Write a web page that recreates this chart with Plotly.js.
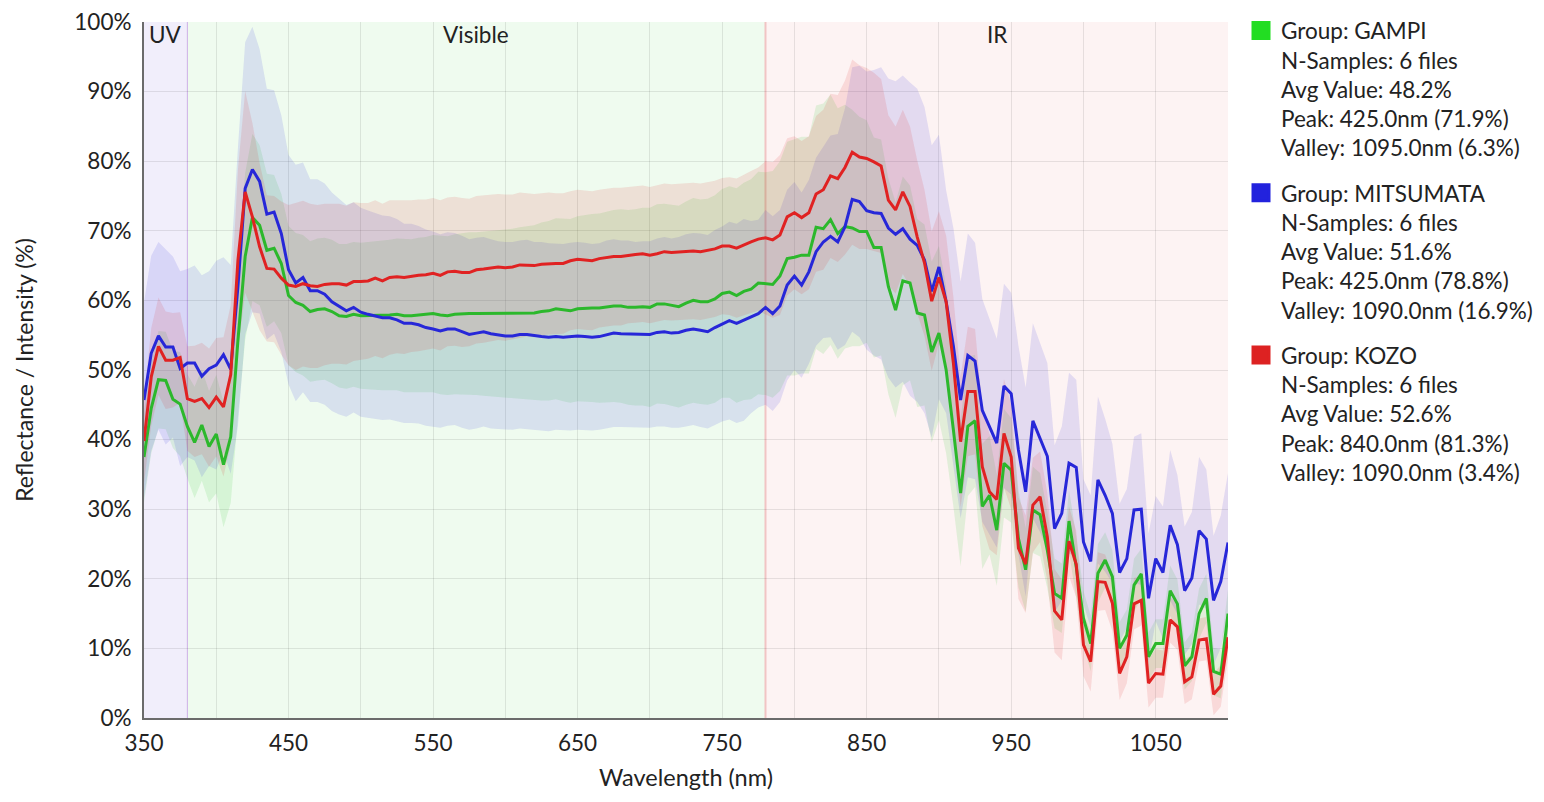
<!DOCTYPE html>
<html>
<head>
<meta charset="utf-8">
<script src="https://cdn.plot.ly/plotly-3.0.1.min.js"></script>
<style>
  html, body { margin: 0; padding: 0; background: #ffffff; }
  #chart { width: 1544px; height: 802px; }
</style>
</head>
<body>
<div id="chart"></div>
<script>
// Wavelength grid (nm)
const wavelength = [
  350, 355, 360, 365, 370, 375, 380, 385, 390, 395, 400, 405, 410, 415, 420, 425, 430, 435, 440, 445,
  450, 455, 460, 465, 470, 475, 480, 485, 490, 495, 500, 505, 510, 515, 520, 525, 530, 535, 540, 545,
  550, 555, 560, 565, 570, 575, 580, 585, 590, 595, 600, 605, 610, 615, 620, 625, 630, 635, 640, 645,
  650, 655, 660, 665, 670, 675, 680, 685, 690, 695, 700, 705, 710, 715, 720, 725, 730, 735, 740, 745,
  750, 755, 760, 765, 770, 775, 780, 785, 790, 795, 800, 805, 810, 815, 820, 825, 830, 835, 840, 845,
  850, 855, 860, 865, 870, 875, 880, 885, 890, 895, 900, 905, 910, 915, 920, 925, 930, 935, 940, 945,
  950, 955, 960, 965, 970, 975, 980, 985, 990, 995, 1000, 1005, 1010, 1015, 1020, 1025, 1030, 1035, 1040, 1045,
  1050, 1055, 1060, 1065, 1070, 1075, 1080, 1085, 1090, 1095, 1100
];

// Mean reflectance (%) per group
const gampiMean = [
  37.5, 44.5, 48.6, 48.5, 45.8, 45.1, 41.9, 39.6, 42.1, 39.0, 40.8, 36.4, 40.4,
  54.3, 66.3, 71.9, 70.8, 67.2, 67.5, 65.3, 60.7,
  59.7, 59.3, 58.4, 58.7, 58.8, 58.4, 57.8, 57.7, 58.0, 57.8,
  57.8, 57.8, 57.8, 57.9, 58.0, 57.8, 57.8, 57.9, 57.9, 58.1,
  57.9, 57.8, 58.0, 58.1, 58.1, 58.1, 58.1, 58.1, 58.1, 58.1,
  58.1, 58.2, 58.2, 58.2, 58.4, 58.5, 58.8, 58.6, 58.5, 58.8,
  58.9, 58.9, 58.9, 59.1, 59.2, 59.2, 59.0, 59.0, 59.1, 59.0,
  59.5, 59.5, 59.3, 59.1, 59.6, 60.0, 59.8, 59.8, 60.2, 61.0,
  61.2, 60.7, 61.3, 61.6, 62.5, 62.4, 62.3, 63.5, 66.0, 66.2,
  66.5, 66.5, 70.5, 70.3, 71.6, 69.6, 70.6, 70.4, 69.9, 69.9,
  67.6, 67.6, 62.0, 58.6, 62.8, 62.5, 58.2, 57.9, 52.6, 55.3,
  50.0, 41.4, 32.3, 41.9, 42.7, 30.4, 32.0, 27.0, 36.6, 35.6,
  25.8, 21.3, 29.9, 29.2, 24.1, 17.9, 17.2, 28.3, 21.7, 14.3,
  10.7, 20.8, 22.7, 20.3, 10.0, 11.9, 19.1, 20.7, 8.8, 10.7,
  10.7, 18.3, 16.4, 7.5, 8.8, 15.0, 17.2, 6.7, 6.3, 15.0
];
const mitsumataMean = [
  45.7, 52.4, 54.9, 53.3, 53.3, 50.2, 51.0, 51.0, 49.1, 50.2, 50.7, 52.2, 50.1,
  62.0, 76.1, 78.8, 77.1, 72.4, 72.7, 69.6, 64.4,
  62.5, 63.3, 61.4, 61.4, 60.9, 59.8, 59.1, 58.5, 59.0, 58.3,
  58.0, 57.8, 57.5, 57.5, 57.2, 56.7, 56.7, 56.5, 56.1, 55.9,
  55.6, 55.9, 55.9, 55.5, 55.1, 55.3, 55.5, 55.2, 55.0, 54.9,
  54.9, 55.1, 55.1, 54.9, 54.8, 54.7, 54.8, 54.7, 54.8, 54.9,
  54.8, 54.7, 54.8, 55.1, 55.3, 55.2, 55.2, 55.1, 55.1, 55.1,
  55.4, 55.5, 55.3, 55.4, 55.7, 55.9, 55.7, 55.5, 56.1, 56.6,
  57.1, 56.7, 57.2, 57.6, 58.1, 59.0, 58.1, 59.2, 62.2, 63.5,
  62.2, 64.1, 67.0, 68.4, 69.2, 68.4, 70.6, 74.5, 74.2, 72.9,
  72.6, 72.5, 70.4, 69.5, 70.3, 68.8, 67.9, 65.8, 61.3, 64.8,
  59.8, 53.4, 45.7, 52.1, 51.3, 44.2, 41.9, 39.5, 47.7, 46.6,
  38.5, 32.5, 42.7, 40.2, 37.6, 27.2, 29.4, 36.6, 36.0, 25.3,
  22.5, 34.2, 32.0, 29.4, 20.9, 22.9, 29.9, 30.0, 17.2, 22.9,
  20.9, 27.7, 24.9, 18.3, 20.1, 26.9, 25.7, 16.9, 19.6, 25.2
];
const kozoMean = [
  39.8, 49.0, 53.4, 51.4, 51.4, 51.8, 45.9, 45.5, 45.9, 44.6, 46.1, 44.7, 49.3,
  65.8, 75.6, 72.0, 67.7, 64.6, 64.5, 63.2, 62.2,
  62.0, 62.4, 62.1, 62.0, 62.3, 62.4, 62.4, 62.2, 62.7, 62.7,
  62.8, 63.2, 62.8, 63.3, 63.4, 63.3, 63.5, 63.6, 63.7, 63.9,
  63.6, 64.1, 64.2, 64.0, 64.0, 64.4, 64.5, 64.6, 64.8, 64.7,
  64.8, 65.1, 65.1, 65.0, 65.2, 65.3, 65.3, 65.3, 65.7, 65.9,
  65.8, 65.7, 66.0, 66.2, 66.3, 66.3, 66.5, 66.6, 66.7, 66.5,
  66.7, 67.0, 66.9, 67.0, 67.1, 67.1, 67.0, 67.2, 67.4, 67.8,
  67.8, 67.5, 68.0, 68.4, 68.8, 69.0, 68.7, 69.4, 72.0, 72.6,
  71.9, 72.6, 75.3, 75.9, 77.9, 77.5, 79.1, 81.3, 80.6, 80.4,
  79.9, 79.3, 74.4, 73.0, 75.6, 73.5, 69.1, 65.4, 59.9, 63.3,
  59.8, 51.0, 39.7, 46.9, 46.9, 36.1, 32.5, 31.4, 40.9, 37.5,
  24.4, 22.1, 30.6, 31.8, 26.0, 15.4, 14.1, 25.4, 22.1, 10.5,
  8.1, 19.6, 19.5, 16.5, 6.4, 8.8, 16.4, 16.9, 5.0, 6.4,
  6.3, 14.1, 13.1, 5.2, 5.9, 11.2, 11.4, 3.4, 4.6, 11.6
];

// Standard deviation (%) per group
const gampiStd = [
  6.5, 6.5, 7.0, 7.0, 7.0, 7.5, 7.5, 8.0, 8.0, 8.0, 8.5, 9.0, 9.5,
  11.0, 12.0, 12.0, 11.5, 11.0, 10.5, 10.0, 10.0,
  10.0, 10.1, 10.1, 10.2, 10.2, 10.3, 10.3, 10.4, 10.4, 10.5,
  10.6, 10.6, 10.7, 10.8, 10.9, 11.0, 11.0, 11.1, 11.2, 11.3,
  11.4, 11.4, 11.5, 11.6, 11.7, 11.7, 11.8, 11.9, 11.9, 12.0,
  12.2, 12.3, 12.5, 12.6, 12.8, 12.9, 13.0, 13.1, 13.2, 13.3,
  13.4, 13.5, 13.6, 13.7, 13.8, 13.9, 14.0, 14.1, 14.2, 14.3,
  14.3, 14.4, 14.4, 14.5, 14.6, 14.7, 14.7, 14.8, 14.9, 15.0,
  15.2, 15.4, 15.6, 15.8, 16.0, 16.0, 16.3, 16.5, 16.8, 17.0,
  17.0, 17.0, 17.5, 18.0, 18.0, 18.0, 17.5, 17.0, 16.5, 16.0,
  15.8, 15.5, 15.5, 15.5, 15.0, 14.0, 13.5, 13.0, 13.0, 12.5,
  12.0, 11.0, 10.5, 10.0, 9.5, 9.0, 8.5, 8.0, 7.8, 7.5,
  7.0, 6.0, 6.2, 6.0, 5.5, 5.0, 5.0, 4.5, 4.5, 4.0,
  4.0, 4.2, 4.0, 3.8, 3.8, 3.7, 3.8, 3.6, 3.5, 3.5,
  3.5, 3.6, 3.5, 3.4, 3.5, 3.6, 3.5, 3.4, 3.5, 3.5
];
const mitsumataStd = [
  14.0, 14.0, 13.5, 14.0, 13.0, 14.0, 13.5, 14.0, 14.5, 14.0, 15.0, 14.0, 15.0,
  20.0, 21.0, 20.5, 19.0, 18.0, 17.5, 17.0, 16.5,
  17.0, 16.5, 16.0, 16.0, 15.9, 15.7, 15.5, 15.2, 15.1, 15.0,
  14.9, 14.8, 14.7, 14.6, 14.5, 14.3, 14.3, 14.2, 14.1, 14.0,
  13.9, 13.9, 13.8, 13.8, 13.7, 13.7, 13.6, 13.6, 13.5, 13.5,
  13.5, 13.5, 13.6, 13.5, 13.6, 13.5, 13.4, 13.4, 13.5, 13.5,
  13.5, 13.4, 13.4, 13.5, 13.5, 13.4, 13.4, 13.3, 13.4, 13.4,
  13.5, 13.6, 13.6, 13.7, 13.8, 13.8, 13.9, 13.9, 14.0, 14.0,
  14.2, 14.3, 14.5, 13.8, 13.5, 14.0, 14.0, 13.8, 13.7, 13.5,
  13.3, 13.2, 13.5, 13.8, 14.5, 15.5, 17.0, 19.0, 19.5, 20.0,
  20.5, 21.0, 21.5, 22.0, 22.0, 22.5, 22.5, 22.0, 21.0, 19.0,
  16.0, 17.0, 17.0, 17.5, 17.0, 16.0, 15.5, 15.0, 14.7, 14.5,
  15.0, 15.0, 14.0, 13.5, 13.4, 12.0, 12.5, 13.0, 12.6, 9.0,
  9.5, 12.0, 11.0, 10.0, 9.9, 10.0, 10.5, 10.9, 9.3, 9.0,
  9.5, 10.8, 10.0, 9.2, 9.5, 10.6, 10.0, 9.3, 9.5, 10.0
];
const kozoStd = [
  6.0, 7.0, 7.0, 7.0, 6.8, 6.5, 7.5, 8.0, 8.0, 8.5, 8.5, 10.0, 10.0,
  13.0, 14.5, 13.5, 12.0, 10.5, 10.5, 11.0, 11.5,
  12.0, 11.9, 11.8, 11.7, 11.6, 11.5, 11.5, 11.4, 11.4, 11.3,
  11.2, 11.2, 11.1, 11.1, 11.0, 11.0, 10.9, 10.9, 10.8, 10.8,
  10.8, 10.7, 10.7, 10.7, 10.6, 10.6, 10.6, 10.5, 10.5, 10.5,
  10.4, 10.4, 10.3, 10.3, 10.2, 10.2, 10.1, 10.1, 10.0, 10.0,
  10.0, 10.0, 9.9, 9.9, 9.9, 9.9, 9.8, 9.8, 9.8, 9.8,
  9.8, 9.8, 9.8, 9.8, 9.8, 9.8, 9.8, 9.8, 9.8, 9.8,
  9.9, 10.0, 10.1, 10.2, 10.3, 11.0, 11.2, 11.5, 11.3, 11.0,
  11.0, 11.0, 11.2, 11.5, 11.8, 12.0, 12.5, 13.3, 13.2, 13.0,
  12.8, 12.5, 12.2, 12.0, 11.8, 11.5, 11.0, 10.5, 10.0, 9.5,
  9.5, 9.5, 9.4, 9.3, 9.0, 8.5, 8.3, 8.0, 7.8, 7.5,
  7.3, 7.0, 6.8, 6.5, 6.3, 6.0, 5.8, 5.0, 4.8, 4.5,
  4.3, 4.2, 4.0, 4.0, 3.8, 3.8, 3.7, 3.6, 3.5, 3.5,
  3.4, 3.3, 3.3, 3.2, 3.2, 3.1, 3.1, 3.0, 3.0, 3.0
];

// Legend summary lines
const gampiInfo = ['Group: GAMPI', 'N-Samples: 6 files', 'Avg Value: 48.2%', 'Peak: 425.0nm (71.9%)', 'Valley: 1095.0nm (6.3%)'];
const mitsumataInfo = ['Group: MITSUMATA', 'N-Samples: 6 files', 'Avg Value: 51.6%', 'Peak: 425.0nm (78.8%)', 'Valley: 1090.0nm (16.9%)'];
const kozoInfo = ['Group: KOZO', 'N-Samples: 6 files', 'Avg Value: 52.6%', 'Peak: 840.0nm (81.3%)', 'Valley: 1090.0nm (3.4%)'];

// Spectral regions
const regionNames = ['UV', 'Visible', 'IR'];
const regionStart = [350, 380, 780];
const regionEnd = [380, 780, 1100];

const FONT = 'Lato, "Noto Sans", sans-serif';
const TEXT = '#222222';

const groups = [
  { mean: gampiMean, std: gampiStd, info: gampiInfo, line: '#2cb82c', key: '#22dd22', band: 'rgba(34,200,34,0.12)' },
  { mean: mitsumataMean, std: mitsumataStd, info: mitsumataInfo, line: '#2727d8', key: '#2222dd', band: 'rgba(40,40,225,0.12)' },
  { mean: kozoMean, std: kozoStd, info: kozoInfo, line: '#e02222', key: '#dd2222', band: 'rgba(225,30,30,0.12)' }
];

const traces = [];

// Shaded ±1 std bands
groups.forEach(g => {
  const lower = g.mean.map((m, i) => Math.max(0, m - g.std[i]));
  const upper = g.mean.map((m, i) => m + g.std[i]);
  traces.push({
    x: wavelength, y: lower, type: 'scatter', mode: 'lines',
    line: { width: 0, color: g.band }, showlegend: false, hoverinfo: 'skip'
  });
  traces.push({
    x: wavelength, y: upper, type: 'scatter', mode: 'lines',
    line: { width: 0, color: g.band }, fill: 'tonexty', fillcolor: g.band,
    showlegend: false, hoverinfo: 'skip'
  });
});

// Mean curves
groups.forEach(g => {
  traces.push({
    x: wavelength, y: g.mean, type: 'scatter', mode: 'lines',
    line: { width: 3, color: g.line }, showlegend: false
  });
});

// Legend keys with group summaries
groups.forEach((g, i) => {
  traces.push({
    x: [null], y: [null], type: 'scatter', mode: 'markers',
    name: g.info.join('<br>'), legendgroup: 'g' + i,
    marker: { symbol: 'square', size: 16, color: g.key, line: { width: 3, color: g.key } }
  });
});

const regionFill = ['#f1eefb', '#effbef', '#fdf3f3'];
const shapes = regionNames.map((n, i) => ({
  type: 'rect', xref: 'x', yref: 'paper', x0: regionStart[i], x1: regionEnd[i], y0: 0, y1: 1,
  fillcolor: regionFill[i], line: { width: 0 }, layer: 'below'
}));
shapes.push({
  type: 'line', xref: 'x', yref: 'paper', x0: regionStart[1], x1: regionStart[1], y0: 0, y1: 1,
  line: { color: '#cdaee6', width: 1 }, layer: 'below'
});
shapes.push({
  type: 'line', xref: 'x', yref: 'paper', x0: regionStart[2], x1: regionStart[2], y0: 0, y1: 1,
  line: { color: '#f1c4c4', width: 2 }, layer: 'below'
});

const annotations = regionNames.map((n, i) => ({
  text: n, xref: 'x', yref: 'paper', x: (regionStart[i] + regionEnd[i]) / 2, y: 1,
  yanchor: 'top', yshift: 3, showarrow: false,
  font: { family: FONT, size: 22.5, color: TEXT }
}));

const layout = {
  width: 1544, height: 802,
  margin: { l: 144, r: 316, t: 22, b: 84, autoexpand: false },
  paper_bgcolor: '#ffffff', plot_bgcolor: '#ffffff',
  font: { family: FONT, size: 22, color: TEXT },
  showlegend: true,
  legend: {
    x: 1.012, y: 1.018, xanchor: 'left', yanchor: 'top', maxheight: 790,
    valign: 'top', traceorder: 'grouped', tracegroupgap: 13,
    font: { family: FONT, size: 22.5, color: TEXT },
    bgcolor: 'rgba(0,0,0,0)', borderwidth: 0, itemsizing: 'trace'
  },
  xaxis: {
    range: [350, 1100], tick0: 350, dtick: 100, ticks: '', ticklabelstandoff: 4,
    showgrid: true, gridcolor: 'rgba(0,0,0,0.09)', gridwidth: 1,
    minor: { dtick: 50, tick0: 350, showgrid: true, gridcolor: 'rgba(0,0,0,0.09)', gridwidth: 1 },
    showline: true, linecolor: '#6b6b6b', linewidth: 2, zeroline: false,
    tickfont: { family: FONT, size: 22.5, color: TEXT },
    title: { text: 'Wavelength (nm)', font: { family: FONT, size: 23.5, color: TEXT }, standoff: 15 }
  },
  yaxis: {
    range: [0, 100], dtick: 10, ticksuffix: '%', ticks: '', ticklabelstandoff: 6,
    showgrid: true, gridcolor: 'rgba(0,0,0,0.09)', gridwidth: 1,
    showline: true, linecolor: '#6b6b6b', linewidth: 2, zeroline: false,
    tickfont: { family: FONT, size: 22.5, color: TEXT },
    title: { text: 'Reflectance / Intensity (%)', font: { family: FONT, size: 23, color: TEXT }, standoff: 34 }
  },
  shapes: shapes,
  annotations: annotations
};

Plotly.newPlot('chart', traces, layout, { displayModeBar: false, responsive: false });
</script>
</body>
</html>
